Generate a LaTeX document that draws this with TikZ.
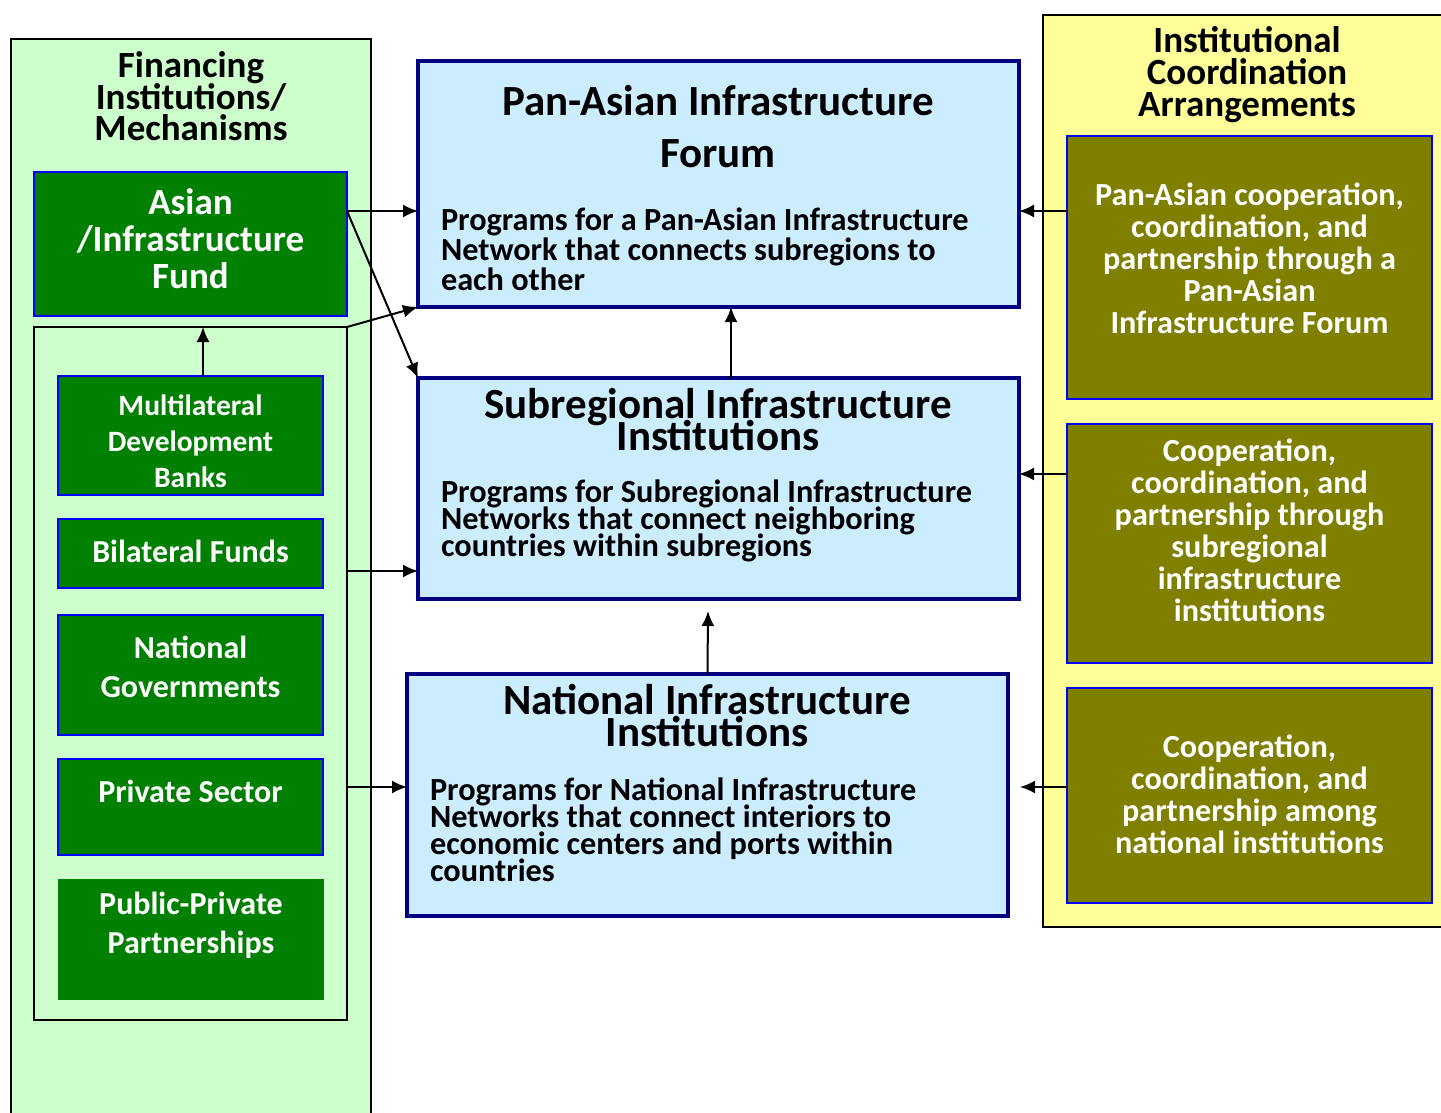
\documentclass[tikz,border=0pt]{standalone}
\usepackage{fontspec}
\setmainfont{Carlito}
\usetikzlibrary{arrows.meta,calc}
\definecolor{pgreen}{HTML}{CCFFCC}
\definecolor{pyellow}{HTML}{FFFF99}
\definecolor{pblue}{HTML}{CCECFF}
\definecolor{navy}{HTML}{000080}
\definecolor{dgreen}{HTML}{008000}
\definecolor{olive}{HTML}{808000}
\definecolor{bblue}{HTML}{0000FF}
\begin{document}
\lineskiplimit=-\maxdimen
\begin{tikzpicture}[x=1pt,y=-1pt,
  box/.style={rectangle, inner sep=0pt, outer sep=0pt},
  panel/.style={box, draw=black, line width=1.5pt},
  greenbox/.style={box, fill=dgreen, draw=bblue, line width=2pt, minimum width=265pt},
  olivebox/.style={box, fill=olive, draw=bblue, line width=2pt, minimum width=365pt},
  bluebox/.style={box, fill=pblue, draw=navy, line width=4.5pt, minimum width=601pt},
  txt/.style={inner sep=0pt, outer sep=0pt, align=center},
  wtxt/.style={txt, text=white},
  arr/.style={-{Latex[length=15pt,width=13pt]}, line width=2pt}]
\clip (0,0) rectangle (1441,1113);
\fill[white] (0,0) rectangle (1441,1113);
% panels
\node[panel, fill=pgreen, minimum width=360pt, minimum height=1091pt] (left) at (191,584.5) {};
\node[panel, fill=pyellow, minimum width=417pt, minimum height=912pt] (right) at (1251.5,471) {};
\node[txt, font=\bfseries\fontsize{37}{31.5}\selectfont] (lefttitle) at (191,96.5) {Financing\\Institutions/\\Mechanisms};
\node[txt, font=\bfseries\fontsize{37}{32}\selectfont] (righttitle) at (1247,75) {Institutional\\Coordination\\Arrangements};
% left column
\node[box, fill=dgreen, draw=bblue, line width=2pt, minimum width=313pt, minimum height=144pt] (aif) at (190.5,244) {};
\node[wtxt, font=\bfseries\fontsize{37}{37}\selectfont] (aift) at (190.5,239) {Asian\\/Infrastructure\\Fund};
\node[box, fill=pgreen, draw=black, line width=2.5pt, minimum width=313pt, minimum height=693pt] (inner) at (190.5,673.5) {};
\node[greenbox, minimum height=119pt] (mdb) at (190.5,435.5) {};
\node[wtxt, font=\bfseries\fontsize{29.5}{36}\selectfont] (mdbt) at (190.5,441) {Multilateral\\Development\\Banks};
\node[greenbox, minimum height=69pt] (bf) at (190.5,553.5) {};
\node[wtxt, font=\bfseries\fontsize{32}{36}\selectfont] (bft) at (190.5,551) {Bilateral Funds};
\node[greenbox, minimum height=120pt] (ng) at (190.5,675) {};
\node[wtxt, font=\bfseries\fontsize{32}{39}\selectfont] (ngt) at (190.5,666.5) {National\\Governments};
\node[greenbox, minimum height=96pt] (ps) at (190.5,807) {};
\node[wtxt, font=\bfseries\fontsize{32}{36}\selectfont] (pst) at (190.5,791) {Private Sector};
\node[box, fill=dgreen, minimum width=266pt, minimum height=121pt] (ppp) at (191,939.5) {};
\node[wtxt, font=\bfseries\fontsize{32}{39}\selectfont] (pppt) at (191,925) {Public-Private\\Partnerships};
% blue boxes
\node[bluebox, minimum height=246pt] (pan) at (718.5,184) {};
\node[txt, font=\bfseries\fontsize{43}{52}\selectfont] (pant) at (718,127) {Pan-Asian Infrastructure\\Forum};
\node[txt, anchor=west, align=left, font=\bfseries\fontsize{32.3}{30}\selectfont] (panb) at (441,249.5) {Programs for a Pan-Asian Infrastructure\\Network that connects subregions to\\each other};
\node[bluebox, minimum height=221pt] (sub) at (718.5,488.5) {};
\node[txt, font=\bfseries\fontsize{43}{32}\selectfont] (subt) at (718,420) {Subregional Infrastructure\\Institutions};
\node[txt, anchor=west, align=left, font=\bfseries\fontsize{32.3}{27}\selectfont] (subb) at (441,521) {Programs for Subregional Infrastructure\\Networks that connect neighboring\\countries within subregions};
\node[bluebox, minimum height=242pt] (nat) at (707.5,795) {};
\node[txt, font=\bfseries\fontsize{43}{32}\selectfont] (natt) at (707,716) {National Infrastructure\\Institutions};
\node[txt, anchor=west, align=left, font=\bfseries\fontsize{32.3}{27}\selectfont] (natb) at (430,829.5) {Programs for National Infrastructure\\Networks that connect interiors to\\economic centers and ports within\\countries};
% olive boxes
\node[olivebox, minimum height=263pt] (o1) at (1249.5,267.5) {};
\node[wtxt, font=\bfseries\fontsize{32.2}{32}\selectfont] (o1t) at (1249.5,258) {Pan-Asian cooperation,\\coordination, and\\partnership through a\\Pan-Asian\\Infrastructure Forum};
\node[olivebox, minimum height=239pt] (o2) at (1249.5,543.5) {};
\node[wtxt, font=\bfseries\fontsize{32.2}{32}\selectfont] (o2t) at (1249.5,530.5) {Cooperation,\\coordination, and\\partnership through\\subregional\\infrastructure\\institutions};
\node[olivebox, minimum height=215pt] (o3) at (1249.5,795.5) {};
\node[wtxt, font=\bfseries\fontsize{32.2}{32}\selectfont] (o3t) at (1249.5,794) {Cooperation,\\coordination, and\\partnership among\\national institutions};
% free ends
\coordinate (subtip) at (708,611);
\coordinate (nattip) at (1020,787);
% arrows
\draw[arr] ([yshift=33pt]aif.east) -- ([yshift=-27pt]pan.west);
\draw[arr] ([yshift=33pt]aif.east) -- (sub.north west);
\draw[arr] (inner.north east) -- (pan.south west);
\draw[arr] ([yshift=102.5pt]inner.east) -- ([yshift=-82.5pt]sub.west);
\draw[arr] ([yshift=-113.5pt]inner.east) -- ([yshift=8pt]nat.west);
\draw[arr] ([xshift=12.5pt]mdb.north) -- ([xshift=12.5pt]inner.north);
\draw[arr] ([xshift=12.5pt]sub.north) -- ([xshift=12.5pt]pan.south);
\draw[arr] (nat.north) -- (subtip);
\draw[arr] ([yshift=56.5pt]o1.west) -- ([yshift=-27pt]pan.east);
\draw[arr] ([yshift=69.5pt]o2.west) -- ([yshift=14.5pt]sub.east);
\draw[arr] ([yshift=8.5pt]o3.west) -- (nattip);
\end{tikzpicture}
\end{document}
